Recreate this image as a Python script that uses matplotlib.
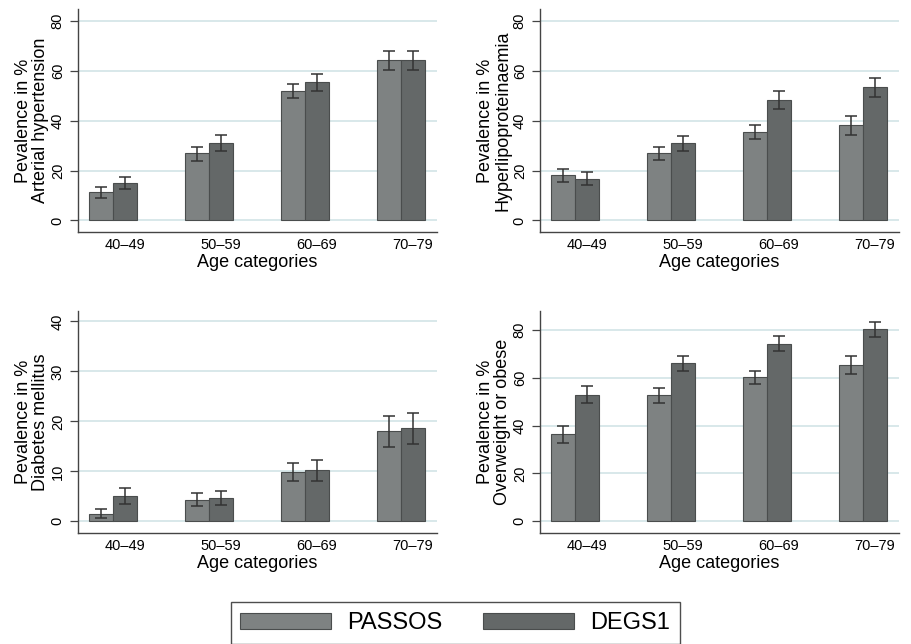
import numpy as np
import matplotlib
matplotlib.use("Agg")
import matplotlib.pyplot as plt
from matplotlib.patches import Patch

plt.rcParams['font.family'] = ['Liberation Sans', 'DejaVu Sans']

ages = ["40\u201349", "50\u201359", "60\u201369", "70\u201379"]

# Arterial hypertension
ht_passos = [11.3, 26.9, 52.0, 64.3]
ht_passos_lo = [8.9, 24.0, 48.9, 60.3]
ht_passos_hi = [13.6, 29.6, 54.8, 68.0]
ht_degs = [15.1, 30.9, 55.5, 64.1]
ht_degs_lo = [12.5, 27.9, 52.0, 60.3]
ht_degs_hi = [17.6, 34.1, 58.8, 67.9]

# Hyperlipoproteinaemia
hl_passos = [18.1, 26.9, 35.3, 38.1]
hl_passos_lo = [15.3, 24.1, 32.5, 34.1]
hl_passos_hi = [20.8, 29.6, 38.1, 42.0]
hl_degs = [16.8, 30.9, 48.3, 53.3]
hl_degs_lo = [14.1, 27.7, 44.8, 49.3]
hl_degs_hi = [19.3, 33.9, 51.9, 57.1]

# Diabetes mellitus
dm_passos = [1.5, 4.3, 9.9, 18.1]
dm_passos_lo = [0.6, 3.0, 8.1, 14.9]
dm_passos_hi = [2.4, 5.6, 11.7, 21.1]
dm_degs = [5.1, 4.7, 10.2, 18.7]
dm_degs_lo = [3.5, 3.2, 8.0, 15.5]
dm_degs_hi = [6.6, 6.0, 12.3, 21.7]

# Overweight or obese
ow_passos = [36.4, 52.8, 60.1, 65.1]
ow_passos_lo = [32.9, 49.6, 57.2, 61.3]
ow_passos_hi = [39.6, 55.8, 62.9, 68.9]
ow_degs = [52.9, 66.0, 74.2, 80.1]
ow_degs_lo = [49.4, 62.8, 71.1, 76.9]
ow_degs_hi = [56.3, 69.2, 77.4, 83.3]

c_passos = "#7e8282"
c_degs = "#646868"
c_edge = "#4a4d4d"
c_grid = "#d5e6e8"

fig = plt.figure(figsize=(9.11, 6.44), dpi=100)

panels = [
    ([0.0856, 0.6398, 0.3941, 0.3463], "Arterial hypertension",
     ht_passos, ht_passos_lo, ht_passos_hi, ht_degs, ht_degs_lo, ht_degs_hi,
     (-4.6, 84.7), [0, 20, 40, 60, 80]),
    ([0.5928, 0.6398, 0.3941, 0.3463], "Hyperlipoproteinaemia",
     hl_passos, hl_passos_lo, hl_passos_hi, hl_degs, hl_degs_lo, hl_degs_hi,
     (-4.6, 84.7), [0, 20, 40, 60, 80]),
    ([0.0856, 0.1724, 0.3941, 0.3447], "Diabetes mellitus",
     dm_passos, dm_passos_lo, dm_passos_hi, dm_degs, dm_degs_lo, dm_degs_hi,
     (-2.33, 42.1), [0, 10, 20, 30, 40]),
    ([0.5928, 0.1724, 0.3941, 0.3447], "Overweight or obese",
     ow_passos, ow_passos_lo, ow_passos_hi, ow_degs, ow_degs_lo, ow_degs_hi,
     (-4.86, 87.8), [0, 20, 40, 60, 80]),
]

x = np.arange(len(ages))
w = 0.25
ekw = dict(ecolor="#333333", elinewidth=1.1, capsize=4.5, capthick=1.1)

for pos, name, p, plo, phi, d, dlo, dhi, ylim, yt in panels:
    ax = fig.add_axes(pos)
    p, plo, phi = np.array(p), np.array(plo), np.array(phi)
    d, dlo, dhi = np.array(d), np.array(dlo), np.array(dhi)
    ax.bar(x - w / 2, p, w, color=c_passos, edgecolor=c_edge, linewidth=0.8,
           yerr=[p - plo, phi - p], error_kw=ekw, zorder=2)
    ax.bar(x + w / 2, d, w, color=c_degs, edgecolor=c_edge, linewidth=0.8,
           yerr=[d - dlo, dhi - d], error_kw=ekw, zorder=2)
    ax.set_xlim(-0.365, 3.375)
    ax.set_ylim(*ylim)
    ax.set_yticks(yt)
    ax.set_xticks(x + w / 2)
    ax.set_xticklabels(ages, fontsize=10.5)
    ax.tick_params(axis='x', length=0, pad=4)
    ax.tick_params(axis='y', length=5.5, width=0.9, color="#444444", pad=4,
                   labelsize=10.5)
    for lab in ax.get_yticklabels():
        lab.set_rotation(90)
        lab.set_va('center')
    ax.yaxis.grid(True, color=c_grid, linewidth=1.3, zorder=0)
    ax.set_axisbelow(True)
    for s in ["top", "right"]:
        ax.spines[s].set_visible(False)
    for s in ["left", "bottom"]:
        ax.spines[s].set_color("#444444")
        ax.spines[s].set_linewidth(1.0)
    ax.set_xlabel("Age categories", fontsize=13, labelpad=2)
    ax.set_ylabel("Pevalence in %\n" + name, fontsize=13, linespacing=1.05,
                  labelpad=1)

handles = [Patch(facecolor=c_passos, edgecolor=c_edge, linewidth=0.8, label="PASSOS"),
           Patch(facecolor=c_degs, edgecolor=c_edge, linewidth=0.8, label="DEGS1")]
leg = fig.legend(handles=handles, loc="upper center", bbox_to_anchor=(0.4995, 0.0652),
                 ncol=2, fontsize=17, frameon=True, fancybox=False,
                 handlelength=3.85, handleheight=0.68, handletextpad=0.68,
                 columnspacing=1.7, borderpad=0.42, borderaxespad=0)
leg.get_frame().set_edgecolor("#222222")
leg.get_frame().set_linewidth(1.0)

fig.savefig("out.png", dpi=100)
